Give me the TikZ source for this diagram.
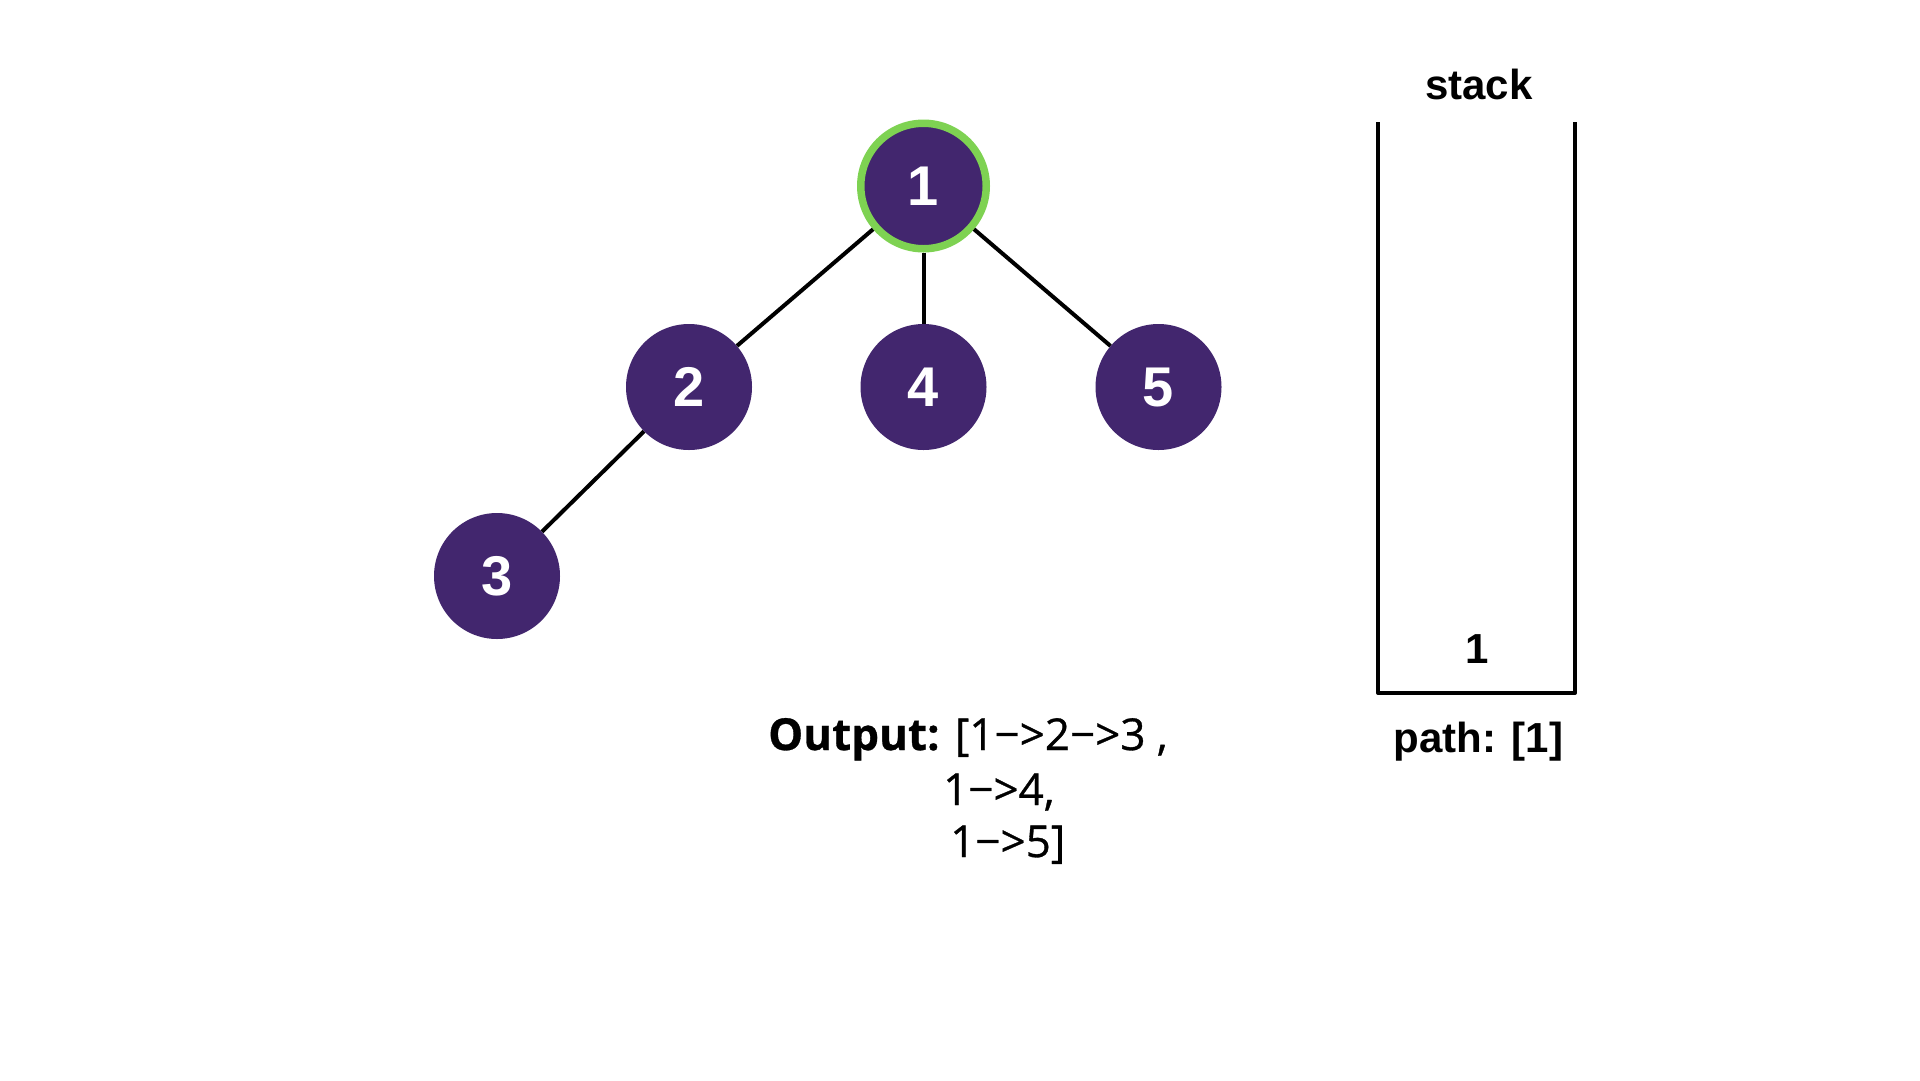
\documentclass[tikz,border=0pt]{standalone}
\usepackage{fontspec}
\setmainfont{Liberation Sans}
\newfontfamily\outfont[FakeBold=0.7]{Open Sans}
\definecolor{nodepurple}{RGB}{66,38,110}
\definecolor{visitgreen}{RGB}{126,210,82}
\tikzset{
  treenode/.style={circle, fill=nodepurple, minimum size=126pt, inner sep=0pt,
    text=white, font=\fontsize{56}{60}\selectfont\bfseries},
  current/.style={draw=visitgreen, line width=7.5pt, minimum size=125.5pt},
  edge/.style={line width=4pt, black},
  lbl/.style={inner sep=0pt, font=\fontsize{42}{48}\selectfont\bfseries},
  outtxt/.style={inner sep=0pt, anchor=base west, font=\outfont\fontsize{44}{50}\selectfont}
}
\begin{document}
\begin{tikzpicture}[x=1pt,y=-1pt]
\useasboundingbox[fill=white] (0,0) rectangle (1920,1080);
\path (923.5,186) coordinate (c1) (689,387) coordinate (c2) (923.5,387) coordinate (c4)
      (1158.5,387) coordinate (c5) (497,576) coordinate (c3);
\node[treenode, current] (n1) at (c1) {1};
\node[treenode] (n2) at (c2) {2};
\node[treenode] (n4) at (c4) {4};
\node[treenode] (n5) at (c5) {5};
\node[treenode] (n3) at (c3) {3};
\draw[edge] (n1) -- (n2);
\draw[edge] (n1) -- (n4);
\draw[edge] (n1) -- (n5);
\draw[edge] (n2) -- (n3);
% stack
\draw[line width=4pt, line join=round] (1378,122) -- (1378,693) -- (1575,693) -- (1575,122);
\node[lbl, anchor=base] (stacklbl) at (1479,99) {stack};
\node[lbl, anchor=base] (stack1) at (1477,663) {1};
\node[lbl, anchor=base] (pathlbl) at (1478.5,752) {path: [1]};
% output
\node[outtxt] (out1) at (768,750) {\textbf{Output:} [1−>2−>3 ,};
\node[outtxt] (out2) at (943,805) {1−>4,};
\node[outtxt] (out3) at (950,857) {1−>5]};
\end{tikzpicture}
\end{document}
